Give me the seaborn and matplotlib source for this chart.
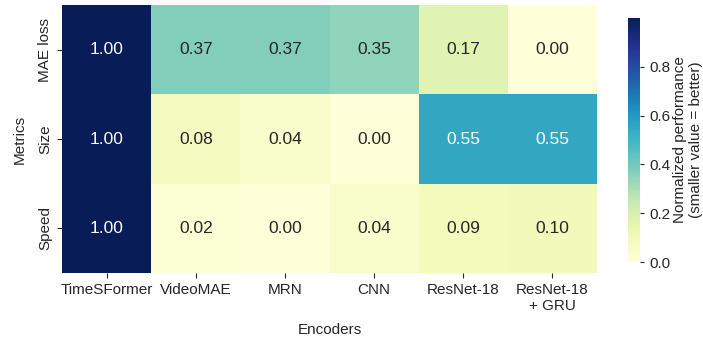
import numpy as np
import pandas as pd
import matplotlib
matplotlib.use("Agg")
import matplotlib.pyplot as plt
import seaborn as sns

encoders = ["TimeSFormer", "VideoMAE", "MRN", "CNN", "ResNet-18", "ResNet-18\n+ GRU"]
metrics = ["MAE loss", "Size", "Speed"]
mae_loss = [1.00, 0.37, 0.37, 0.35, 0.17, 0.00]
size = [1.00, 0.08, 0.04, 0.00, 0.55, 0.55]
speed = [1.00, 0.02, 0.00, 0.04, 0.09, 0.10]

df = pd.DataFrame([mae_loss, size, speed], index=metrics, columns=encoders)

sns.set_style("ticks")
plt.rcParams["font.family"] = ["Liberation Sans", "DejaVu Sans"]

fig = plt.figure(figsize=(7.03, 3.41), dpi=100)
ax = fig.add_axes([62 / 703, 1 - 273 / 341, 535 / 703, 268 / 341])
cax = fig.add_axes([628 / 703, 1 - 262 / 341, 12 / 703, 244 / 341])

sns.heatmap(df, ax=ax, cbar_ax=cax, cmap="YlGnBu", vmin=0, vmax=1,
            annot=True, fmt=".2f", annot_kws={"size": 12.5},
            cbar_kws={"ticks": [0.0, 0.2, 0.4, 0.6, 0.8]})
ax.set_xlabel("Encoders", fontsize=11, labelpad=7)
ax.set_ylabel("Metrics", fontsize=11, labelpad=8)
ax.tick_params(axis="both", labelsize=11)
ax.set_xticklabels(ax.get_xticklabels(), rotation=0)
ax.set_yticklabels(ax.get_yticklabels(), rotation=90, va="center")
cax.tick_params(labelsize=11, length=3)
cax.set_ylabel("Normalized performance\n(smaller value = better)", fontsize=11, labelpad=2)

fig.savefig("out.png", dpi=100)
